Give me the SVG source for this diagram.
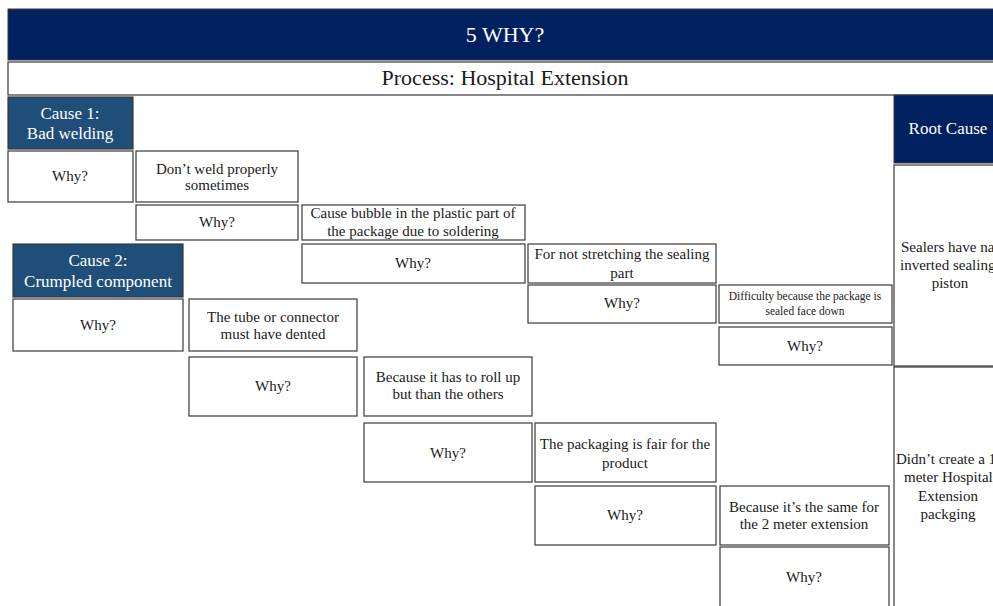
<svg xmlns="http://www.w3.org/2000/svg" width="993" height="606" viewBox="0 0 993 606">
<style>
text{font-family:"Liberation Serif","Times New Roman",serif;fill:#1a1a1a;text-anchor:middle}
.box{fill:#fff;stroke:#3a3a3a;stroke-width:1.2}
.cause{fill:#1F4E79;stroke:#3a3a3a;stroke-width:1.2}
.navy{fill:#002060;stroke:#3a3a3a;stroke-width:1}
.t{font-size:15px}
.s{font-size:11.5px}
.w{fill:#fff}
.c{font-size:17px}
.big{font-size:22px}
.st{text-anchor:start}
</style>
<rect width="993" height="606" fill="#fff"/>
<g id="title">
<rect class="navy" x="8" y="9" width="1000" height="51"/>
<text class="big w" x="505" y="42">5 WHY?</text>
</g>
<g id="process">
<rect class="box" x="8" y="62" width="1000" height="33"/>
<text class="big" x="505" y="85">Process: Hospital Extension</text>
</g>
<g id="connectors"></g>
<g id="cause1">
<rect class="cause" x="8" y="97" width="125" height="52"/>
<text class="c w" x="70" y="119">Cause 1:</text>
<text class="c w" x="70" y="139">Bad welding</text>
</g>
<g id="c1-why1"><rect class="box" x="8" y="151" width="125" height="51"/><text class="t" x="70" y="181">Why?</text></g>
<g id="c1-ans1"><rect class="box" x="136" y="151" width="162" height="51"/><text class="t" x="217" y="174">Don’t weld properly</text><text class="t" x="217" y="190">sometimes</text></g>
<g id="c1-why2"><rect class="box" x="136" y="205" width="162" height="35"/><text class="t" x="217" y="227">Why?</text></g>
<g id="c1-ans2"><rect class="box" x="302" y="205" width="223" height="35"/><text class="t" x="413" y="218">Cause bubble in the plastic part of</text><text class="t" x="413" y="236">the package due to soldering</text></g>
<g id="c1-why3"><rect class="box" x="302" y="244" width="223" height="39"/><text class="t" x="413" y="268">Why?</text></g>
<g id="c1-ans3"><rect class="box" x="528" y="244" width="188" height="39"/><text class="t" x="622" y="259">For not stretching the sealing</text><text class="t" x="622" y="278">part</text></g>
<g id="c1-why4"><rect class="box" x="528" y="285" width="188" height="38"/><text class="t" x="622" y="308">Why?</text></g>
<g id="c1-ans4"><rect class="box" x="719" y="285" width="173" height="38"/><text class="s" x="805" y="300">Difficulty because the package is</text><text class="s" x="805" y="315">sealed face down</text></g>
<g id="c1-why5"><rect class="box" x="719" y="327" width="173" height="38"/><text class="t" x="805" y="351">Why?</text></g>
<g id="cause2">
<rect class="cause" x="13" y="244" width="170" height="53"/>
<text class="c w" x="98" y="266">Cause 2:</text>
<text class="c w" x="98" y="287">Crumpled component</text>
</g>
<g id="c2-why1"><rect class="box" x="13" y="299" width="170" height="52"/><text class="t" x="98" y="330">Why?</text></g>
<g id="c2-ans1"><rect class="box" x="189" y="299" width="168" height="52"/><text class="t" x="273" y="322">The tube or connector</text><text class="t" x="273" y="339">must have dented</text></g>
<g id="c2-why2"><rect class="box" x="189" y="357" width="168" height="59"/><text class="t" x="273" y="391">Why?</text></g>
<g id="c2-ans2"><rect class="box" x="364" y="357" width="168" height="59"/><text class="t" x="448" y="382">Because it has to roll up</text><text class="t" x="448" y="399">but than the others</text></g>
<g id="c2-why3"><rect class="box" x="364" y="423" width="168" height="59"/><text class="t" x="448" y="458">Why?</text></g>
<g id="c2-ans3"><rect class="box" x="535" y="423" width="181" height="59"/><text class="t" x="625" y="449">The packaging is fair for the</text><text class="t" x="625" y="468">product</text></g>
<g id="c2-why4"><rect class="box" x="535" y="486" width="181" height="59"/><text class="t" x="625" y="520">Why?</text></g>
<g id="c2-ans4"><rect class="box" x="720" y="486" width="169" height="59"/><text class="t" x="804" y="512">Because it’s the same for</text><text class="t" x="804" y="529">the 2 meter extension</text></g>
<g id="c2-why5"><rect class="box" x="720" y="547" width="169" height="64"/><text class="t" x="804" y="582">Why?</text></g>
<g id="root-header">
<rect class="navy" x="894" y="95" width="110" height="68"/>
<text class="c w" x="948" y="134">Root Cause</text>
</g>
<g id="root1">
<rect class="box" x="894" y="165" width="110" height="201"/>
<text class="t st" x="901" y="252">Sealers have na</text>
<text class="t st" x="900" y="270">inverted sealing</text>
<text class="t" x="950" y="288">piston</text>
</g>
<g id="root2">
<rect class="box" x="894" y="367" width="110" height="245"/>
<text class="t st" x="896" y="464">Didn’t create a 1</text>
<text class="t st" x="904" y="482">meter Hospital</text>
<text class="t" x="948" y="501">Extension</text>
<text class="t" x="948" y="519">packging</text>
</g>
</svg>
